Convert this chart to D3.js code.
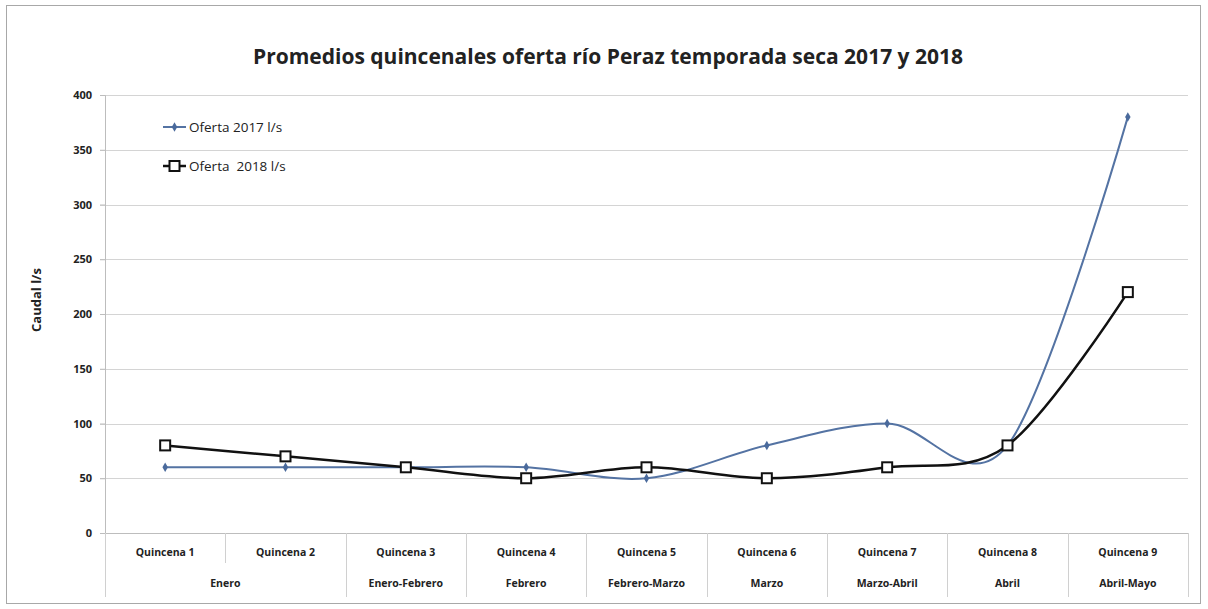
<!DOCTYPE html>
<html>
<head>
<meta charset="utf-8">
<script src="https://d3js.org/d3.v7.min.js"></script>
<style>
  body { margin: 0; background: white; }
  text { font-family: "Open Sans", "Liberation Sans", sans-serif; fill: #222; }
  .grid line { stroke: #d4d4d4; stroke-width: 1; }
</style>
</head>
<body>
<div id="chart"></div>
<script>
var quincenas = ["Quincena 1", "Quincena 2", "Quincena 3", "Quincena 4", "Quincena 5",
                 "Quincena 6", "Quincena 7", "Quincena 8", "Quincena 9"];
var meses = ["Enero", "Enero", "Enero-Febrero", "Febrero", "Febrero-Marzo",
             "Marzo", "Marzo-Abril", "Abril", "Abril-Mayo"];
var oferta2017 = [60, 60, 60, 60, 50, 80, 100, 80, 380];
var oferta2018 = [80, 70, 60, 50, 60, 50, 60, 80, 220];
var yTicks = [0, 50, 100, 150, 200, 250, 300, 350, 400];

var width = 1208, height = 609;
var plotLeft = 105, plotRight = 1188, plotTop = 95, plotBottom = 533;

var svg = d3.select("#chart").append("svg")
  .attr("width", width).attr("height", height);

// outer frame
svg.append("rect").attr("x", 6.5).attr("y", 5.5).attr("width", 1194).attr("height", 598)
  .attr("fill", "white").attr("stroke", "#a8a8a8").attr("stroke-width", 1);

var x = d3.scaleBand().domain(quincenas).range([plotLeft, plotRight]);
var y = d3.scaleLinear().domain([0, 400]).range([plotBottom, plotTop]);

// gridlines
svg.append("g").attr("class", "grid")
  .selectAll("line").data(yTicks).enter().append("line")
  .attr("x1", plotLeft - 5).attr("x2", plotRight)
  .attr("y1", function (d) { return Math.round(y(d)) + 0.5; })
  .attr("y2", function (d) { return Math.round(y(d)) + 0.5; });

// y axis
var yAxis = svg.append("g").attr("transform", "translate(" + plotLeft + ",0)")
  .call(d3.axisLeft(y).tickValues(yTicks).tickSize(5).tickPadding(8));
yAxis.select(".domain").attr("stroke", "#bdbdbd");
yAxis.selectAll(".tick line").attr("stroke", "#bdbdbd");
yAxis.selectAll("text").attr("font-size", 11).attr("font-weight", "bold").attr("fill", "#333")
  .attr("font-family", "'Open Sans', sans-serif");

svg.append("text")
  .attr("transform", "translate(41,300) rotate(-90)")
  .attr("text-anchor", "middle").attr("font-size", 13).attr("font-weight", "bold")
  .text("Caudal l/s");

// category axis
var cat = svg.append("g");
cat.append("line").attr("x1", plotLeft).attr("x2", plotRight)
  .attr("y1", plotBottom + 0.5).attr("y2", plotBottom + 0.5).attr("stroke", "#bdbdbd");
var bounds = d3.range(quincenas.length + 1).map(function (i) {
  return i < quincenas.length ? x(quincenas[i]) : plotRight;
});
cat.selectAll(".sep").data(bounds).enter().append("line")
  .attr("x1", function (d) { return Math.round(d) + 0.5; })
  .attr("x2", function (d) { return Math.round(d) + 0.5; })
  .attr("y1", plotBottom)
  .attr("y2", function (d, i) {
    return (i > 0 && i < meses.length && meses[i] === meses[i - 1]) ? 563 : 597;
  })
  .attr("stroke", "#d0d0d0");
cat.selectAll(".q").data(quincenas).enter().append("text")
  .attr("x", function (d) { return x(d) + x.bandwidth() / 2; })
  .attr("y", 556).attr("text-anchor", "middle")
  .attr("font-size", 10.5).attr("font-weight", "bold").attr("fill", "#444")
  .text(function (d) { return d; });
// group month labels
var groups = [];
meses.forEach(function (m, i) {
  if (i > 0 && meses[i - 1] === m) groups[groups.length - 1].end = i;
  else groups.push({ name: m, start: i, end: i });
});
cat.selectAll(".m").data(groups).enter().append("text")
  .attr("x", function (g) { return (x(quincenas[g.start]) + x(quincenas[g.end]) + x.bandwidth()) / 2; })
  .attr("y", 587).attr("text-anchor", "middle")
  .attr("font-size", 10.5).attr("font-weight", "bold").attr("fill", "#444")
  .text(function (g) { return g.name; });

// lines
var cx = function (d, i) { return x(quincenas[i]) + x.bandwidth() / 2; };
var line = d3.line().x(cx).y(function (d) { return y(d); }).curve(d3.curveCatmullRom.alpha(0));

svg.append("path").datum(oferta2017).attr("d", line)
  .attr("fill", "none").attr("stroke", "#5473a3").attr("stroke-width", 2);
svg.append("path").datum(oferta2018).attr("d", line)
  .attr("fill", "none").attr("stroke", "#111").attr("stroke-width", 2.5);

var diamond = d3.symbol().type(d3.symbolDiamond).size(26);
svg.selectAll(".m17").data(oferta2017).enter().append("path")
  .attr("d", diamond)
  .attr("transform", function (d, i) { return "translate(" + cx(d, i) + "," + y(d) + ")"; })
  .attr("fill", "#4a6a9c");
svg.selectAll(".m18").data(oferta2018).enter().append("rect")
  .attr("x", function (d, i) { return cx(d, i) - 5; })
  .attr("y", function (d) { return y(d) - 5; })
  .attr("width", 10).attr("height", 10)
  .attr("fill", "white").attr("stroke", "#111").attr("stroke-width", 2);

// legend
var leg = svg.append("g");
leg.append("line").attr("x1", 163).attr("x2", 186).attr("y1", 127).attr("y2", 127)
  .attr("stroke", "#5473a3").attr("stroke-width", 2);
leg.append("path").attr("d", diamond).attr("transform", "translate(174.5,127)").attr("fill", "#4a6a9c");
leg.append("text").attr("x", 189).attr("y", 132).attr("font-size", 13.5).text("Oferta 2017 l/s");
leg.append("line").attr("x1", 163).attr("x2", 186).attr("y1", 166).attr("y2", 166)
  .attr("stroke", "#111").attr("stroke-width", 2.5);
leg.append("rect").attr("x", 169.5).attr("y", 161).attr("width", 10).attr("height", 10)
  .attr("fill", "white").attr("stroke", "#111").attr("stroke-width", 2);
leg.append("text").attr("x", 189).attr("y", 171).attr("font-size", 13.5)
  .attr("xml:space", "preserve").text("Oferta  2018 l/s");

// title
svg.append("text").attr("x", 608).attr("y", 64).attr("text-anchor", "middle")
  .attr("font-size", 21).attr("font-weight", "bold").attr("fill", "#111")
  .text("Promedios quincenales oferta río Peraz temporada seca 2017 y 2018");
</script>
</body>
</html>
